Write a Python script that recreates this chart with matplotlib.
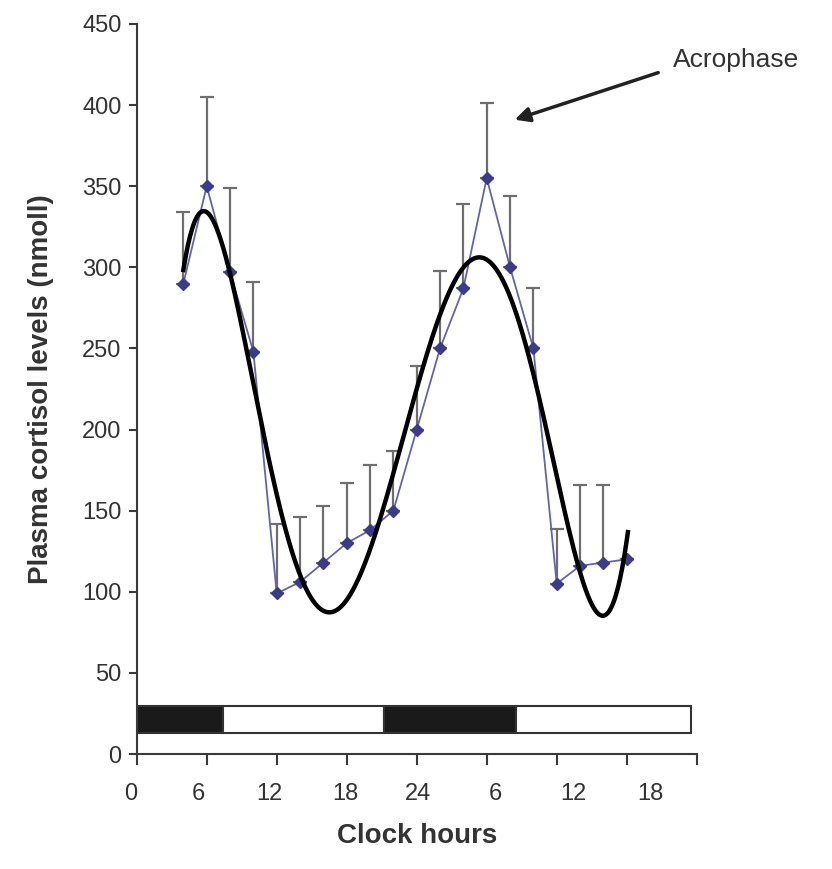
import numpy as np
import matplotlib
matplotlib.use("Agg")
import matplotlib.pyplot as plt
import matplotlib.transforms as mtransforms

plt.rcParams['font.family'] = ['Liberation Sans', 'DejaVu Sans']

# Data (clock hours since start, plasma cortisol nmol/l)
hours = [4, 6, 8, 10, 12, 14, 16, 18, 20, 22, 24, 26, 28, 30, 32, 34, 36, 38, 40, 42]
cortisol = [290, 350, 297, 248, 99, 106, 118, 130, 138, 150, 200, 250, 287, 355, 300, 250, 105, 116, 118, 120]
err_upper = [44, 55, 52, 43, 43, 40, 35, 37, 40, 37, 39, 48, 52, 46, 44, 37, 34, 50, 48, 0]

# light/dark bar segments (start hour, end hour, dark?)
seg_start = [0, 7.4, 21.2, 32.5]
seg_end = [7.4, 21.2, 32.5, 47.5]
seg_dark = [True, False, True, False]

xtick_pos = [0, 6, 12, 18, 24, 30, 36, 42, 48]
xlabel_text = ['0', '6', '12', '18', '24', '6', '12', '18']
xlabel_pos = [-0.5, 5.3, 11.4, 17.9, 24.1, 30.7, 37.4, 44.0]
ytick_pos = [0, 50, 100, 150, 200, 250, 300, 350, 400, 450]

fig = plt.figure(figsize=(8.32, 8.69), dpi=100)
ax = fig.add_axes([0.1643, 0.1323, 0.8374 - 0.1643, 0.9724 - 0.1323])

axis_col = '#3a3a3a'
text_col = '#333333'

# light-dark bar
for s, e, d in zip(seg_start, seg_end, seg_dark):
    ax.barh(21.5, e - s, left=s, height=16.5, color='#1a1a1a' if d else 'white',
            edgecolor='#333333', linewidth=1.5, zorder=2)

# error bars (upper only)
x = np.array(hours, dtype=float)
y = np.array(cortisol, dtype=float)
eu = np.array(err_upper, dtype=float)
ax.errorbar(x, y, yerr=[np.zeros_like(eu), eu], fmt='none', ecolor='#6e6e6e',
            elinewidth=1.6, capsize=5, capthick=1.6, zorder=3)

# data line with diamonds
ax.plot(x, y, color='#6464aa', lw=1.3, marker='D', markersize=6,
        markerfacecolor='#3b3b8a', markeredgecolor='#3b3b8a', zorder=4)

# polynomial trendline (6th order)
coef = np.polyfit(x, y, 6)
xf = np.linspace(4, 42.1, 400)
ax.plot(xf, np.polyval(coef, xf), color='black', lw=3.2, zorder=5)

ax.set_xlim(0, 48)
ax.set_ylim(0, 450)
ax.set_xticks(xtick_pos)
ax.set_xticklabels([''] * len(xtick_pos))
ax.set_yticks(ytick_pos)
ax.spines['top'].set_visible(False)
ax.spines['right'].set_visible(False)
for sp in ['left', 'bottom']:
    ax.spines[sp].set_color(axis_col)
    ax.spines[sp].set_linewidth(1.5)
ax.tick_params(axis='y', colors=axis_col, labelcolor=text_col, labelsize=17,
               length=6, width=1.5, direction='out', pad=5)
ax.tick_params(axis='x', colors=axis_col, length=8, width=1.5, direction='out')

# x tick labels (placed as in the reference)
off = mtransforms.ScaledTranslation(0, -0.29, fig.dpi_scale_trans)
tr = ax.get_xaxis_transform() + off
for p, t in zip(xlabel_pos, xlabel_text):
    ax.text(p, 0, t, transform=tr, ha='center', va='top', fontsize=17, color=text_col)

ax.set_xlabel('Clock hours', fontsize=20, fontweight='bold', color=text_col, labelpad=38)
ax.set_ylabel('Plasma cortisol levels (nmoll)', fontsize=20, fontweight='bold',
              color=text_col, labelpad=20)

# Acrophase annotation
ax.annotate('', xy=(32.4, 391), xytext=(44.7, 420),
            arrowprops=dict(arrowstyle='-|>', color='#222222', lw=2.5,
                            mutation_scale=22, shrinkA=0, shrinkB=0),
            annotation_clip=False)
ax.text(46.0, 428, 'Acrophase', fontsize=19, color=text_col, ha='left', va='center',
        clip_on=False)

fig.savefig('out.png', dpi=100)
